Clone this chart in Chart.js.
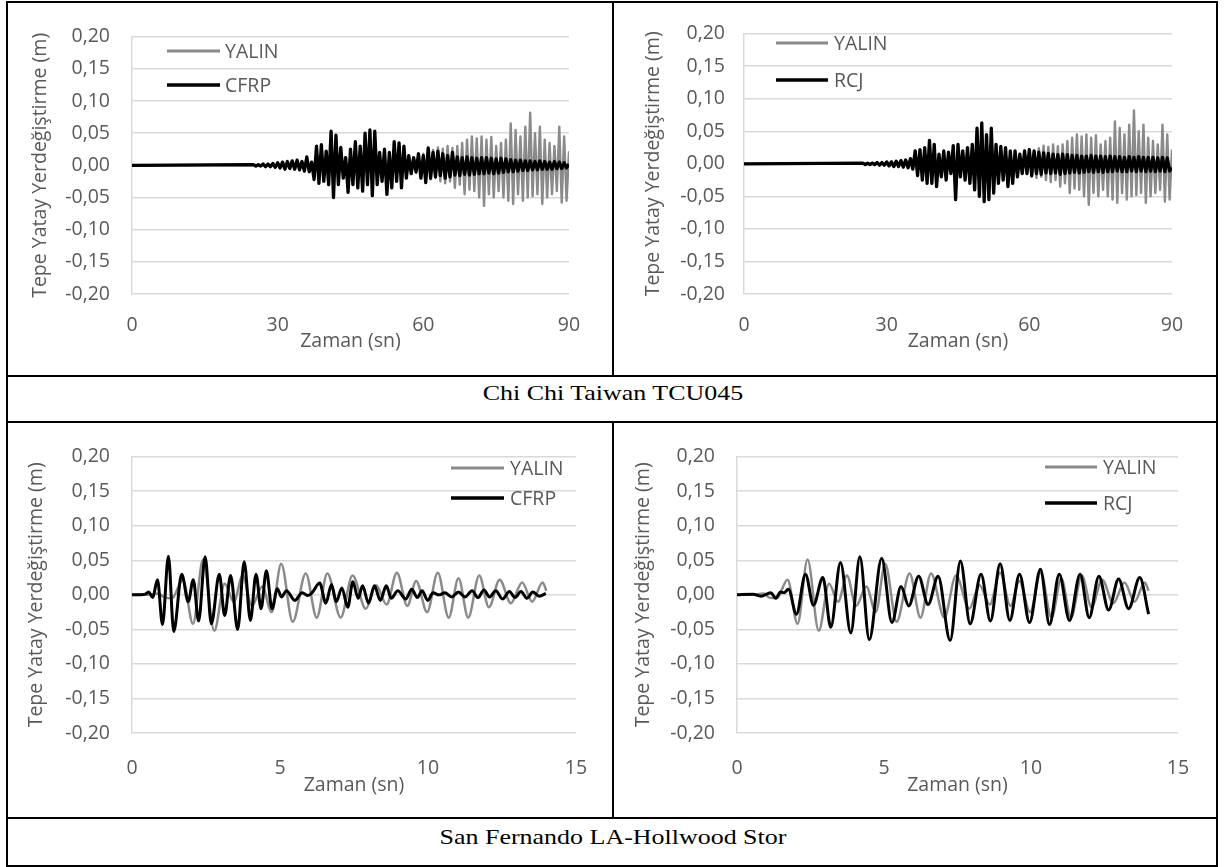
<!DOCTYPE html>
<html>
<head>
<meta charset="utf-8">
<script src="https://cdn.jsdelivr.net/npm/chart.js@4.4.1/dist/chart.umd.min.js"></script>
<style>
    body { margin: 0; background: #fff; width: 1232px; height: 867px; position: relative; overflow: hidden; }
    .rule { position: absolute; background: #000; }
    canvas { position: absolute; }
    .caption {
        position: absolute; left: 7px; width: 1212px; text-align: center;
        font-family: "Liberation Serif", "Times New Roman", serif; font-size: 22px; line-height: 22px;
        color: #000; transform: scaleX(1.18);
    }
</style>
</head>
<body>
<!-- table frame -->
<div class="rule" style="left:6px;top:1px;width:1212px;height:2px"></div>
<div class="rule" style="left:6px;top:865px;width:1212px;height:2px"></div>
<div class="rule" style="left:6px;top:1px;width:2px;height:866px"></div>
<div class="rule" style="left:1216px;top:1px;width:2px;height:866px"></div>
<div class="rule" style="left:6px;top:375px;width:1212px;height:2px"></div>
<div class="rule" style="left:6px;top:421px;width:1212px;height:2px"></div>
<div class="rule" style="left:6px;top:817px;width:1212px;height:2px"></div>
<div class="rule" style="left:612px;top:1px;width:2px;height:376px"></div>
<div class="rule" style="left:612px;top:421px;width:2px;height:398px"></div>

<canvas id="chiCfrp" width="604" height="372" style="left:8px;top:3px"></canvas>
<canvas id="chiRcj" width="602" height="372" style="left:614px;top:3px"></canvas>
<canvas id="sfCfrp" width="604" height="394" style="left:8px;top:423px"></canvas>
<canvas id="sfRcj" width="602" height="394" style="left:614px;top:423px"></canvas>

<div class="caption" style="top:382px">Chi Chi Taiwan TCU045</div>
<div class="caption" style="top:826px">San Fernando LA-Hollwood Stor</div>

<script>
// Chi Chi Taiwan TCU045: flat at zero until 25 s, then read every 0.5 s up to 90 s
const chiTimes = [0];
for (let t = 25; t <= 90; t += 0.5) chiTimes.push(t);

const yalinChi = [0,
    0.001, -0.001, 0.001, -0.001, 0.002, -0.002, 0.002, -0.002, 0.002, -0.002,
    0.003, -0.003, 0.004, -0.004, 0.004, -0.004, 0.005, -0.005, 0.005, -0.005,
    0.006, -0.006, 0.008, -0.007, 0.005, -0.008, 0.010, -0.010, 0.012, -0.012,
    0.012, -0.012, 0.014, -0.014, 0.014, -0.013, 0.012, -0.012, 0.012, -0.014,
    0.015, -0.015, 0.016, -0.016, 0.016, -0.015, 0.018, -0.016, 0.018, -0.017,
    0.016, -0.015, 0.014, -0.014, 0.015, -0.015, 0.015, -0.015, 0.016, -0.016,
    0.016, -0.014, 0.013, -0.012, 0.012, -0.011, 0.011, -0.012, 0.014, -0.013,
    0.018, -0.020, 0.020, -0.022, 0.024, -0.020, 0.028, -0.025, 0.026, -0.028,
    0.030, -0.025, 0.027, -0.035, 0.030, -0.030, 0.035, -0.045, 0.040, -0.038,
    0.045, -0.040, 0.042, -0.050, 0.045, -0.063, 0.040, -0.045, 0.044, -0.050,
    0.030, -0.040, 0.035, -0.050, 0.040, -0.055, 0.065, -0.060, 0.055, -0.045,
    0.045, -0.055, 0.060, -0.050, 0.082, -0.048, 0.050, -0.045, 0.060, -0.060,
    0.040, -0.050, 0.035, -0.045, 0.030, -0.040, 0.060, -0.058, 0.045, -0.055,
    0.022];

const cfrpChi = [0,
    0.001, -0.001, 0.001, -0.001, 0.002, -0.002, 0.002, -0.002, 0.003, -0.003,
    0.004, -0.004, 0.005, -0.006, 0.006, -0.005, 0.007, -0.006, 0.008, -0.007,
    0.006, -0.009, 0.013, -0.010, 0.005, -0.022, 0.030, -0.028, 0.032, -0.025,
    0.022, -0.030, 0.053, -0.050, 0.047, -0.030, 0.028, -0.020, 0.012, -0.042,
    0.025, -0.030, 0.037, -0.035, 0.030, -0.040, 0.050, -0.030, 0.055, -0.047,
    0.053, -0.030, 0.020, -0.025, 0.025, -0.045, 0.020, -0.035, 0.037, -0.025,
    0.035, -0.035, 0.030, -0.020, 0.015, -0.013, 0.012, -0.010, 0.018, -0.020,
    0.015, -0.027, 0.027, -0.020, 0.020, -0.018, 0.022, -0.016, 0.018, -0.020,
    0.015, -0.018, 0.020, -0.015, 0.013, -0.016, 0.012, -0.014, 0.013, -0.015,
    0.012, -0.014, 0.011, -0.013, 0.012, -0.013, 0.012, -0.012, 0.011, -0.013,
    0.010, -0.012, 0.011, -0.011, 0.010, -0.010, 0.009, -0.010, 0.008, -0.009,
    0.008, -0.008, 0.007, -0.008, 0.007, -0.007, 0.006, -0.007, 0.007, -0.006,
    0.006, -0.006, 0.005, -0.006, 0.006, -0.005, 0.005, -0.005, 0.004, -0.004,
    0.002];

const rcjChi = [0,
    0.001, -0.001, 0.001, -0.001, 0.001, -0.001, 0.002, -0.002, 0.002, -0.002,
    0.003, -0.003, 0.003, -0.004, 0.004, -0.004, 0.005, -0.005, 0.006, -0.006,
    0.008, -0.008, 0.020, -0.018, 0.022, -0.025, 0.025, -0.030, 0.036, -0.030,
    0.030, -0.035, 0.015, -0.020, 0.020, -0.025, 0.018, -0.015, 0.028, -0.055,
    0.030, -0.020, 0.020, -0.025, 0.025, -0.030, 0.030, -0.040, 0.055, -0.050,
    0.063, -0.058, 0.045, -0.055, 0.055, -0.045, 0.030, -0.030, 0.027, -0.025,
    0.025, -0.035, 0.020, -0.030, 0.020, -0.020, 0.015, -0.015, 0.020, -0.015,
    0.022, -0.018, 0.020, -0.015, 0.018, -0.016, 0.017, -0.014, 0.016, -0.015,
    0.015, -0.014, 0.014, -0.016, 0.015, -0.015, 0.014, -0.014, 0.013, -0.013,
    0.013, -0.014, 0.012, -0.013, 0.012, -0.012, 0.013, -0.013, 0.012, -0.012,
    0.012, -0.013, 0.011, -0.012, 0.012, -0.012, 0.011, -0.011, 0.011, -0.012,
    0.010, -0.012, 0.011, -0.011, 0.010, -0.012, 0.011, -0.011, 0.010, -0.012,
    0.010, -0.011, 0.010, -0.012, 0.009, -0.011, 0.010, -0.012, 0.009, -0.011,
    -0.006];

// San Fernando LA-Hollywood Stor: peaks and troughs
const sfYalinT = [0, 0.5, 0.9, 1.1, 1.35, 1.72, 2.06, 2.4, 2.78, 3.13, 3.44, 3.74, 4.05, 4.4, 4.72,
    5.04, 5.43, 5.87, 6.24, 6.6, 7.05, 7.45, 7.9, 8.25, 8.6, 8.95, 9.3, 9.6, 9.97, 10.33,
    10.7, 11.03, 11.36, 11.73, 12.06, 12.42, 12.8, 13.18, 13.52, 13.87, 14.0];
const sfYalinY = [0, 0, 0.002, -0.004, -0.005, 0.022, -0.042, 0.051, -0.052, 0.016, -0.010, 0.028, -0.016, 0.012, -0.025,
    0.045, -0.039, 0.031, -0.033, 0.031, -0.033, 0.028, -0.020, 0.014, -0.014, 0.032, -0.016, 0.020, -0.025, 0.032,
    -0.033, 0.024, -0.033, 0.028, -0.018, 0.022, -0.012, 0.018, -0.010, 0.018, 0.006];

const sfCfrpT = [0, 0.3, 0.45, 0.57, 0.7, 0.86, 1.03, 1.23, 1.41, 1.68, 1.9, 2.07, 2.25, 2.47, 2.68,
    2.95, 3.13, 3.33, 3.57, 3.79, 4.0, 4.19, 4.36, 4.54, 4.73, 4.91, 5.05, 5.22, 5.5, 5.75,
    5.95, 6.1, 6.34, 6.55, 6.74, 6.9, 7.09, 7.29, 7.46, 7.64, 7.79, 7.99, 8.19, 8.39, 8.59,
    8.76, 8.98, 9.25, 9.45, 9.64, 9.8, 9.99, 10.17, 10.37, 10.57, 10.8, 11.03, 11.25, 11.49, 11.69,
    11.89, 12.08, 12.29, 12.52, 12.75, 12.94, 13.14, 13.34, 13.54, 13.76, 13.98];
const sfCfrpY = [0, 0, 0.001, 0.004, -0.004, 0.022, -0.043, 0.056, -0.053, 0.030, -0.010, 0.022, -0.038, 0.055, -0.042,
    0.030, -0.030, 0.028, -0.050, 0.048, -0.037, 0.030, -0.020, 0.035, -0.020, 0.009, -0.003, 0.006, -0.008, 0.003,
    -0.001, 0.004, 0.017, -0.012, 0.015, -0.010, 0.010, -0.018, 0.019, -0.005, 0.013, -0.012, 0.013, -0.008, 0.013,
    -0.005, 0.006, -0.006, 0.008, -0.004, 0.006, -0.008, 0.003, 0.000, 0.003, -0.003, 0.004, -0.003, 0.006, -0.004,
    0.007, -0.003, 0.006, -0.006, 0.005, -0.004, 0.005, -0.005, 0.004, -0.002, 0.002];

const sfRcjT = [0, 0.54, 0.81, 1.15, 1.32, 1.48, 1.6, 1.75, 2.02, 2.33, 2.6, 2.92, 3.19, 3.52, 3.87,
    4.18, 4.5, 4.92, 5.27, 5.58, 5.84, 6.18, 6.5, 6.84, 7.25, 7.6, 7.93, 8.3, 8.62, 8.95,
    9.28, 9.61, 9.95, 10.32, 10.63, 10.96, 11.31, 11.67, 11.98, 12.31, 12.64, 12.98, 13.32, 13.7, 14.0];
const sfRcjY = [0, 0.001, -0.002, 0.003, -0.005, 0.004, 0.003, 0.008, -0.028, 0.030, -0.015, 0.025, -0.047, 0.047, -0.055,
    0.055, -0.065, 0.053, -0.040, 0.012, -0.016, 0.027, -0.014, 0.027, -0.066, 0.049, -0.042, 0.030, -0.038, 0.045,
    -0.037, 0.030, -0.040, 0.037, -0.043, 0.030, -0.037, 0.030, -0.033, 0.027, -0.022, 0.023, -0.020, 0.025, -0.028];

const yTitle = 'Tepe Yatay Yerdeğiştirme (m)';
const xTitle = 'Zaman (sn)';
const grey = '#8a8a8a';
const textGrey = '#595959';

Chart.defaults.font.family = '"Open Sans", sans-serif';
Chart.defaults.font.size = 19.5;
Chart.defaults.color = textGrey;

function pairs(xs, ys) {
    return xs.map(function (x, i) { return { x: x, y: ys[i] }; });
}

// legend drawn inside the plot, Excel style
const lineLegend = {
    id: 'lineLegend',
    afterDraw: function (chart, args, opts) {
        const ctx = chart.ctx;
        ctx.save();
        ctx.font = '19.5px "Open Sans", sans-serif';
        ctx.textBaseline = 'middle';
        ctx.fillStyle = textGrey;
        chart.data.datasets.forEach(function (ds, i) {
            const y = opts.y[i];
            ctx.strokeStyle = ds.borderColor;
            ctx.lineWidth = i === 0 ? 3 : 3.5;
            ctx.beginPath();
            ctx.moveTo(opts.x, y);
            ctx.lineTo(opts.x + opts.len, y);
            ctx.stroke();
            ctx.fillText(ds.label, opts.x + opts.len + opts.gap, y + 1);
        });
        ctx.restore();
    }
};

function makeChart(id, cfg) {
    new Chart(document.getElementById(id), {
        type: 'line',
        data: {
            datasets: [{
                label: 'YALIN',
                data: cfg.grey,
                borderColor: grey,
                borderWidth: cfg.smooth ? 2.5 : 2.4,
                order: 2
            }, {
                label: cfg.name,
                data: cfg.black,
                borderColor: '#000',
                borderWidth: cfg.smooth ? 3 : 3.3,
                order: 1
            }]
        },
        options: {
            responsive: false,
            animation: false,
            parsing: false,
            elements: {
                point: { radius: 0 },
                line: { tension: 0, cubicInterpolationMode: cfg.smooth ? 'monotone' : 'default', borderJoinStyle: 'round' }
            },
            layout: { padding: { left: 0, top: cfg.top, right: cfg.right, bottom: 0 } },
            scales: {
                x: {
                    type: 'linear',
                    min: 0,
                    max: cfg.xMax,
                    afterFit: function (s) { s.height = cfg.xHeight; },
                    ticks: { stepSize: cfg.xStep, padding: cfg.xPad },
                    grid: { display: false },
                    border: { display: false },
                    title: { display: true, text: xTitle, padding: { top: 0, bottom: cfg.xTitlePad } }
                },
                y: {
                    min: -0.2,
                    max: 0.2,
                    afterFit: function (s) { s.width = cfg.left; },
                    ticks: {
                        stepSize: 0.05,
                        padding: cfg.yPad,
                        callback: function (v) { return v.toFixed(2).replace('.', ','); }
                    },
                    grid: { color: '#d9d9d9', lineWidth: 1.5, drawTicks: false },
                    border: { display: true, color: '#d9d9d9', width: 1.5 },
                    title: { display: true, text: yTitle, padding: { top: cfg.yTitlePad, bottom: 0 } }
                }
            },
            plugins: {
                legend: { display: false },
                tooltip: { enabled: false },
                lineLegend: cfg.legend
            }
        },
        plugins: [lineLegend]
    });
}

const chiYalin = pairs(chiTimes, yalinChi);
const sfYalin = pairs(sfYalinT, sfYalinY);

makeChart('chiCfrp', {
    name: 'CFRP', grey: chiYalin, black: pairs(chiTimes, cfrpChi), smooth: false,
    xMax: 90, xStep: 30, left: 124, top: 26, right: 43, xHeight: 81, xPad: 12, xTitlePad: 22,
    yPad: 22, yTitlePad: 21, legend: { x: 159, y: [48, 82], len: 53, gap: 5 }
});
makeChart('chiRcj', {
    name: 'RCJ', grey: chiYalin, black: pairs(chiTimes, rcjChi), smooth: false,
    xMax: 90, xStep: 30, left: 130, top: 26, right: 44, xHeight: 81, xPad: 12, xTitlePad: 22,
    yPad: 19, yTitlePad: 28, legend: { x: 162, y: [40, 77], len: 52, gap: 6 }
});
makeChart('sfCfrp', {
    name: 'CFRP', grey: sfYalin, black: pairs(sfCfrpT, sfCfrpY), smooth: true,
    xMax: 15, xStep: 5, left: 124, top: 29, right: 36, xHeight: 84, xPad: 16, xTitlePad: 20,
    yPad: 22, yTitlePad: 17, legend: { x: 443, y: [45, 75], len: 53, gap: 6 }
});
makeChart('sfRcj', {
    name: 'RCJ', grey: sfYalin, black: pairs(sfRcjT, sfRcjY), smooth: true,
    xMax: 15, xStep: 5, left: 123, top: 29, right: 38, xHeight: 84, xPad: 16, xTitlePad: 20,
    yPad: 22, yTitlePad: 18, legend: { x: 431, y: [44, 80], len: 52, gap: 6 }
});
</script>
</body>
</html>
